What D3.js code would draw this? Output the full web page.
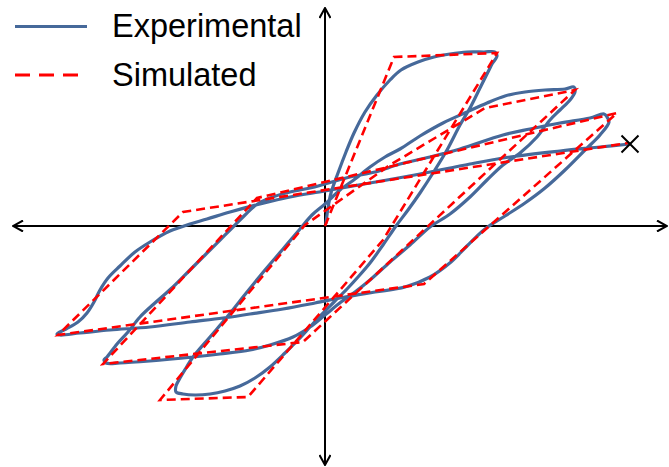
<!DOCTYPE html>
<html>
<head>
<meta charset="utf-8">
<script src="https://cdn.jsdelivr.net/npm/d3@7"></script>
<style>
  html, body { margin: 0; padding: 0; background: #fff; }
  svg { display: block; }
</style>
</head>
<body>
<svg id="chart" width="669" height="467"></svg>
<script>
// Cyclic load test: lateral displacement (x) vs lateral force (y).

// Experimental record, split into its loading / unloading branches [disp, force]
const expVirgin = [
  [0.1, 0.3], [0.3, 1.8], [0.6, 3.3], [1.3, 5.3], [2.1, 7.4], [2.9, 9.3], [4.0, 11.4],
  [5.2, 13.1], [6.5, 14.6], [7.6, 15.6], [9.3, 16.4], [10.9, 16.9], [12.5, 17.2],
  [14.2, 17.4], [15.9, 17.4], [17.0, 17.4], [17.2, 17.0]
];
const expUnload1 = [
  [16.7, 16.2], [16.5, 15.8], [15.5, 13.8], [14.5, 11.8], [13.5, 10.1], [12.2, 7.6],
  [10.8, 5.3], [9.5, 3.3], [8.3, 1.6], [7.1, 0.0], [5.8, -1.9], [4.5, -3.7], [3.3, -5.1],
  [2.2, -6.3], [0.9, -7.6], [-0.3, -8.8], [-1.5, -10.1], [-2.7, -11.4], [-4.0, -12.7],
  [-5.5, -14.1], [-7.0, -15.2], [-8.5, -16.0], [-10.0, -16.5], [-11.5, -16.8],
  [-13.0, -16.9], [-14.2, -16.8], [-14.9, -16.6], [-14.9, -16.0]
];
const expReload1 = [
  [-14.5, -15.2], [-13.9, -14.2], [-13.2, -13.1], [-11.5, -11.1], [-9.8, -9.1],
  [-7.8, -6.6], [-6.0, -4.4], [-4.2, -2.3], [-2.5, -0.3], [-1.3, 1.1], [0.0, 2.2],
  [1.5, 3.6], [3.0, 4.7], [4.5, 5.9], [6.0, 6.9], [7.5, 7.7], [9.5, 9.0], [11.8, 10.3],
  [14.2, 11.4], [16.2, 12.3], [18.0, 13.0], [20.0, 13.4], [22.0, 13.6], [24.0, 13.7],
  [24.9, 13.9], [25.0, 13.4]
];
const expUnload2 = [
  [24.5, 12.6], [23.5, 11.6], [22.5, 10.6], [21.2, 8.9], [19.5, 7.3], [17.8, 6.1],
  [16.2, 4.6], [14.5, 2.9], [12.5, 1.2], [10.5, -0.1], [8.5, -1.9], [6.5, -3.6],
  [4.5, -5.4], [3.0, -6.6], [1.6, -7.6], [0.0, -8.9], [-1.5, -10.1], [-3.2, -11.1],
  [-5.5, -11.9], [-7.5, -12.4], [-10.5, -12.8], [-13.2, -13.1], [-17.5, -13.5],
  [-20.5, -13.7], [-21.9, -13.7], [-22.1, -13.4]
];
const expReload2 = [
  [-21.8, -13.1], [-20.8, -11.8], [-19.7, -10.6], [-18.5, -9.1], [-16.9, -7.6],
  [-15.2, -6.1], [-13.5, -4.4], [-11.8, -2.7], [-10.5, -1.4], [-9.2, -0.1], [-8.0, 1.1],
  [-6.9, 2.1], [-5.5, 2.8], [-3.5, 3.4], [-1.5, 3.8], [0.0, 4.2], [2.5, 4.9], [5.0, 5.4],
  [7.5, 6.2], [10.5, 6.9], [13.5, 7.7], [17.8, 9.1], [20.5, 9.7], [23.5, 10.3],
  [26.5, 10.8], [27.9, 11.2], [28.2, 10.9]
];
const expUnload3 = [
  [28.4, 10.4], [27.5, 9.1], [26.0, 7.6], [24.0, 5.6], [22.0, 3.8], [20.0, 2.3],
  [18.0, 1.0], [16.0, -0.3], [14.2, -2.0], [12.6, -3.6], [10.5, -5.1], [8.0, -6.1],
  [5.0, -6.6], [2.0, -7.1], [-1.0, -7.7], [-4.2, -8.3], [-7.5, -8.8],
  [-10.2, -9.2], [-13.5, -9.6], [-17.5, -10.1], [-21.5, -10.4], [-24.5, -10.7],
  [-26.5, -10.9], [-26.8, -10.8]
];
const expReload3 = [
  [-25.9, -10.3], [-24.7, -9.6], [-23.8, -8.7], [-23.1, -7.6], [-22.5, -6.4],
  [-21.7, -5.2], [-20.5, -4.0], [-19.0, -2.6], [-17.5, -1.6], [-15.5, -0.5],
  [-13.5, 0.2], [-11.8, 0.7], [-9.5, 1.4], [-6.5, 2.2], [-3.5, 2.9],
  [0.0, 3.5], [4.5, 4.3], [9.5, 5.2], [14.5, 6.2], [18.5, 6.9], [23.5, 7.5],
  [27.5, 7.9], [30.5, 8.2]
];

// Simulated (multi-linear model) vertices [disp, force]
const simVirgin  = [[0.0, 0.0], [6.9, 16.9], [17.2, 17.3]];
const simUnload1 = [[5.8, -1.4], [-7.7, -17.1], [-16.5, -17.4]];
const simReload1 = [[-2.0, 0.1], [6.5, 6.1], [16.0, 11.8], [25.0, 13.6]];
const simUnload2 = [[-2.2, -11.6], [-22.2, -13.8]];
const simReload2 = [[-6.8, 2.8], [29.2, 11.3]];
const simUnload3 = [[9.9, -5.8], [-26.7, -10.9]];
const simReload3 = [[-14.2, 1.4], [30.3, 8.3]];

// Failure point at the end of the test
const failurePoint = [30.5, 8.2];

const seriesNames = ["Experimental", "Simulated"];
const seriesColors = ["#46699a", "#ff0000"];

const experimental = [].concat(expVirgin, expUnload1, expReload1, expUnload2,
                               expReload2, expUnload3, expReload3);
const simulated = [].concat(simVirgin, simUnload1, simReload1, simUnload2,
                            simReload2, simUnload3, simReload3);

const W = 669, H = 467;
const svg = d3.select("#chart");

const x = d3.scaleLinear().domain([-32.5, 34.4]).range([0, W]);
const y = d3.scaleLinear().domain([22.6, -24.1]).range([0, H]);

// Arrow heads (open chevrons)
const defs = svg.append("defs");
defs.append("marker")
  .attr("id", "arrow")
  .attr("viewBox", "0 0 12 12")
  .attr("refX", 11).attr("refY", 6)
  .attr("markerWidth", 12).attr("markerHeight", 12)
  .attr("markerUnits", "userSpaceOnUse")
  .attr("orient", "auto-start-reverse")
  .append("path")
  .attr("d", "M1,0.5 L11,6 L1,11.5")
  .attr("fill", "none")
  .attr("stroke", "#000")
  .attr("stroke-width", 2);

// Axes through the origin, arrows on both ends
const axes = svg.append("g").attr("stroke", "#000").attr("stroke-width", 2);
axes.append("line")
  .attr("x1", 13).attr("x2", 667)
  .attr("y1", y(0)).attr("y2", y(0))
  .attr("marker-start", "url(#arrow)")
  .attr("marker-end", "url(#arrow)");
axes.append("line")
  .attr("x1", x(0)).attr("x2", x(0))
  .attr("y1", 8).attr("y2", 465)
  .attr("marker-start", "url(#arrow)")
  .attr("marker-end", "url(#arrow)");

// Experimental curve (smooth)
const smooth = d3.line()
  .x(d => x(d[0])).y(d => y(d[1]))
  .curve(d3.curveCatmullRom.alpha(0.5));
svg.append("path")
  .datum(experimental)
  .attr("d", smooth)
  .attr("fill", "none")
  .attr("stroke", seriesColors[0])
  .attr("stroke-width", 3.2)
  .attr("stroke-linejoin", "round")
  .attr("stroke-linecap", "round");

// Simulated curve (piecewise linear, dashed)
const poly = d3.line().x(d => x(d[0])).y(d => y(d[1]));
svg.append("path")
  .datum(simulated)
  .attr("d", poly)
  .attr("fill", "none")
  .attr("stroke", seriesColors[1])
  .attr("stroke-width", 2.6)
  .attr("stroke-dasharray", "9,5");

// Failure marker
const fx = x(failurePoint[0]), fy = y(failurePoint[1]), s = 8.5;
svg.append("path")
  .attr("d", `M${fx - s},${fy - s}L${fx + s},${fy + s}M${fx - s},${fy + s}L${fx + s},${fy - s}`)
  .attr("stroke", "#000")
  .attr("stroke-width", 2)
  .attr("fill", "none");

// Legend
const legend = svg.append("g");
const rows = [
  { name: seriesNames[0], color: seriesColors[0], dash: null, ly: 26.5, ty: 37 },
  { name: seriesNames[1], color: seriesColors[1], dash: "15,9", ly: 75, ty: 86 }
];
rows.forEach(r => {
  legend.append("line")
    .attr("x1", 15).attr("x2", r.dash ? 80 : 87)
    .attr("y1", r.ly).attr("y2", r.ly)
    .attr("stroke", r.color)
    .attr("stroke-width", 3)
    .attr("stroke-dasharray", r.dash);
  legend.append("text")
    .attr("x", 112).attr("y", r.ty)
    .attr("font-family", "'Liberation Sans', Arial, sans-serif")
    .attr("font-size", 32.5)
    .attr("fill", "#000")
    .text(r.name);
});
</script>
</body>
</html>
